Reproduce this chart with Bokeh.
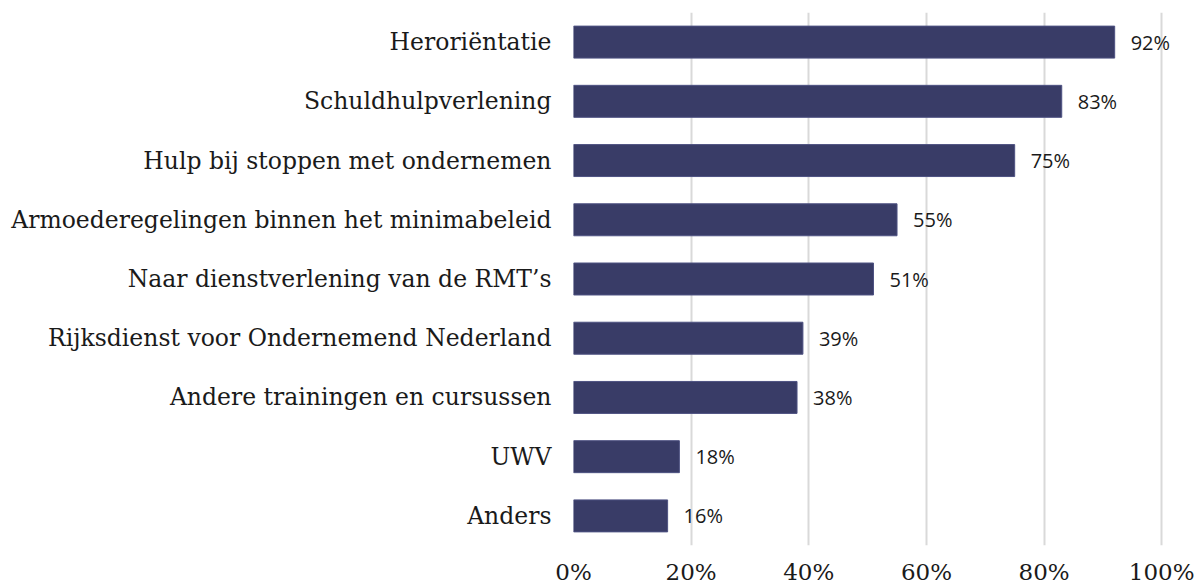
from bokeh.plotting import figure
from bokeh.models import ColumnDataSource, Range1d, FixedTicker, PrintfTickFormatter
from bokeh.core.properties import value
from bokeh.embed import file_html
from bokeh.resources import INLINE

categories = [
    "Heroriëntatie",
    "Schuldhulpverlening",
    "Hulp bij stoppen met ondernemen",
    "Armoederegelingen binnen het minimabeleid",
    "Naar dienstverlening van de RMT’s",
    "Rijksdienst voor Ondernemend Nederland",
    "Andere trainingen en cursussen",
    "UWV",
    "Anders",
]
values = [92, 83, 75, 55, 51, 39, 38, 18, 16]
x_ticks = [0, 20, 40, 60, 80, 100]

labels = [f"{v}%" for v in values]
src = ColumnDataSource(dict(cat=categories, val=values, lab=labels))

p = figure(
    y_range=list(reversed(categories)),
    x_range=Range1d(0, 105.4),
    width=1195, height=587,
    output_backend="svg", toolbar_location=None,
    min_border_left=573, min_border_right=2,
    min_border_top=12, min_border_bottom=41,
)
p.outline_line_color = None
p.background_fill_color = "white"
p.border_fill_color = "white"

p.hbar(y="cat", left=0, right="val", height=0.54, source=src,
       fill_color="#393C67", line_color="#4E5282", line_width=1)

p.text(x="val", y="cat", text="lab", source=src, x_offset=16,
       text_baseline="middle", text_align="left",
       text_font=value("Open Sans"), text_font_size="20px", text_color="#1a1a1a")

# grid
p.ygrid.grid_line_color = None
p.xgrid.grid_line_color = "#d9d9d9"
p.xgrid.grid_line_width = 2
p.xgrid.ticker = FixedTicker(ticks=x_ticks)

# x axis
p.xaxis.ticker = FixedTicker(ticks=x_ticks)
p.xaxis.formatter = PrintfTickFormatter(format="%d%%")
p.xaxis.axis_line_color = None
p.xaxis.major_tick_line_color = None
p.xaxis.minor_tick_line_color = None
p.xaxis.major_tick_out = 0
p.xaxis.major_label_standoff = 13
p.xaxis.major_label_text_font = "DejaVu Serif"
p.xaxis.major_label_text_font_size = "23px"
p.xaxis.major_label_text_color = "#1a1a1a"

# y axis
p.yaxis.axis_line_color = None
p.yaxis.major_tick_line_color = None
p.yaxis.minor_tick_line_color = None
p.yaxis.major_tick_out = 0
p.yaxis.major_label_standoff = 22
p.yaxis.major_label_text_font = "DejaVu Serif"
p.yaxis.major_label_text_font_size = "23.5px"
p.yaxis.major_label_text_color = "#1a1a1a"

open("out.html", "w").write(file_html(p, INLINE))
